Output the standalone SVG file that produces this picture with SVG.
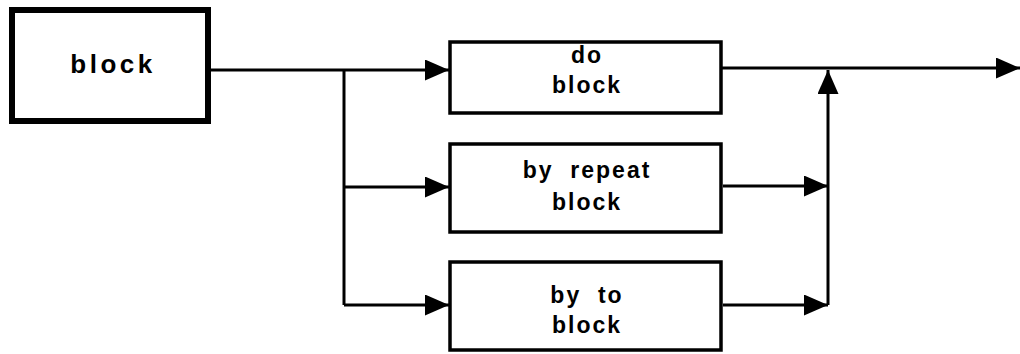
<svg xmlns="http://www.w3.org/2000/svg" width="1020" height="354" viewBox="0 0 1020 354">
<style>
.box{fill:#fff;stroke:#000;stroke-width:3.5}
.main{stroke-width:6}
.lbl{font-family:"Liberation Sans",Arial,sans-serif;font-weight:bold;fill:#000;text-anchor:middle;white-space:pre}
.big{font-size:26px;letter-spacing:3.5px}
.sm{font-size:23px;letter-spacing:2px}
.wire{fill:none;stroke:#000;stroke-width:3}
</style>
<defs>
<marker id="ah" markerUnits="userSpaceOnUse" markerWidth="24" markerHeight="21" refX="24" refY="10.5" orient="auto" viewBox="0 0 24 21">
<path d="M0,0 L24,10.5 L0,21 Z" fill="#000"/>
</marker>
</defs>
<g id="connectors">
<path class="wire" d="M208,70 H449" marker-end="url(#ah)"/>
<path class="wire" d="M344,70 V305"/>
<path class="wire" d="M344,187 H449" marker-end="url(#ah)"/>
<path class="wire" d="M344,305 H449" marker-end="url(#ah)"/>
<path class="wire" d="M721,68 H1020" marker-end="url(#ah)"/>
<path class="wire" d="M828,305 V70" marker-end="url(#ah)"/>
<path class="wire" d="M723,186 H828" marker-end="url(#ah)"/>
<path class="wire" d="M723,305 H828" marker-end="url(#ah)"/>
</g>
<g id="n-block">
<rect class="box main" x="12" y="10" width="196" height="111"/>
<text class="lbl big" x="113" y="73">block</text>
</g>
<g id="n-do">
<rect class="box" x="450" y="42" width="271" height="71"/>
<text class="lbl sm" x="587" y="63">do</text>
<text class="lbl sm" x="587" y="93">block</text>
</g>
<g id="n-repeat">
<rect class="box" x="450" y="144" width="271" height="88"/>
<text class="lbl sm" x="587" y="178">by  repeat</text>
<text class="lbl sm" x="587" y="210">block</text>
</g>
<g id="n-to">
<rect class="box" x="450" y="262" width="271" height="88"/>
<text class="lbl sm" x="587" y="303">by  to</text>
<text class="lbl sm" x="587" y="333">block</text>
</g>
</svg>
